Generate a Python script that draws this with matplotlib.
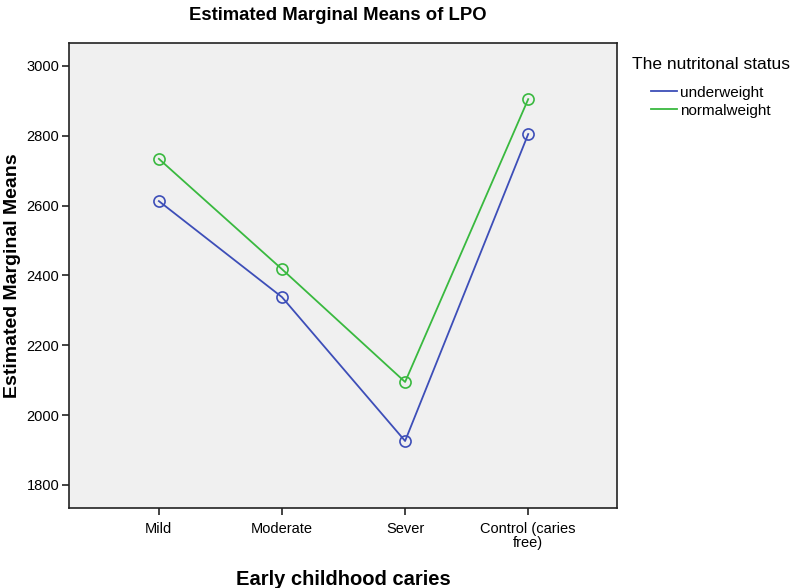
import matplotlib
matplotlib.use("Agg")
import matplotlib.pyplot as plt

categories = ["Mild", "Moderate", "Sever", "Control (caries\nfree)"]
underweight = [2613, 2338, 1926, 2805]
normalweight = [2734, 2418, 2095, 2905]
yticks = [1800, 2000, 2200, 2400, 2600, 2800, 3000]

plt.rcParams['font.family'] = ['Liberation Sans', 'DejaVu Sans']

fig = plt.figure(figsize=(7.94, 5.88), dpi=100)
ax = fig.add_axes([0.0869, 0.136, 0.690, 0.791])
ax.set_facecolor('#F0F0F0')

x = list(range(len(categories)))
ax.plot(x, underweight, color='#3D4EB8', lw=1.3, marker='o', ms=8,
        mfc='none', mec='#3D4EB8', mew=1.2, label='underweight')
ax.plot(x, normalweight, color='#39B93F', lw=1.3, marker='o', ms=8,
        mfc='none', mec='#39B93F', mew=1.2, label='normalweight')

ax.set_xlim(-0.73, 3.72)
ax.set_ylim(1734, 3066)
ax.set_xticks(x)
ax.set_xticklabels(categories, fontsize=10.5, linespacing=1.05)
ax.set_yticks(yticks)
ax.set_yticklabels([str(v) for v in yticks], fontsize=10.5)
ax.tick_params(axis='x', direction='out', length=5, width=1.2, color='#222222', pad=5)
ax.tick_params(axis='y', direction='out', length=5, width=1.2, color='#222222', pad=2)
for s in ax.spines.values():
    s.set_linewidth(1.2)
    s.set_color('#222222')

ax.set_xlabel("Early childhood caries", fontsize=14.5, fontweight='bold', labelpad=14)
ax.set_ylabel("Estimated Marginal Means", fontsize=14, fontweight='bold', labelpad=4)
fig.text(0.425, 0.974, "Estimated Marginal Means of LPO", fontsize=13.3,
         fontweight='bold', ha='center', va='center')

leg = ax.legend(loc='upper left', bbox_to_anchor=(1.008, 0.993), frameon=False,
                title="The nutritonal status", title_fontsize=12.5, fontsize=11,
                handlelength=1.7, handletextpad=0.2, labelspacing=0.25,
                borderaxespad=0.3)
leg._legend_box.sep = 10
for h in leg.legend_handles:
    h.set_marker('')

fig.savefig("out.png", dpi=100)
